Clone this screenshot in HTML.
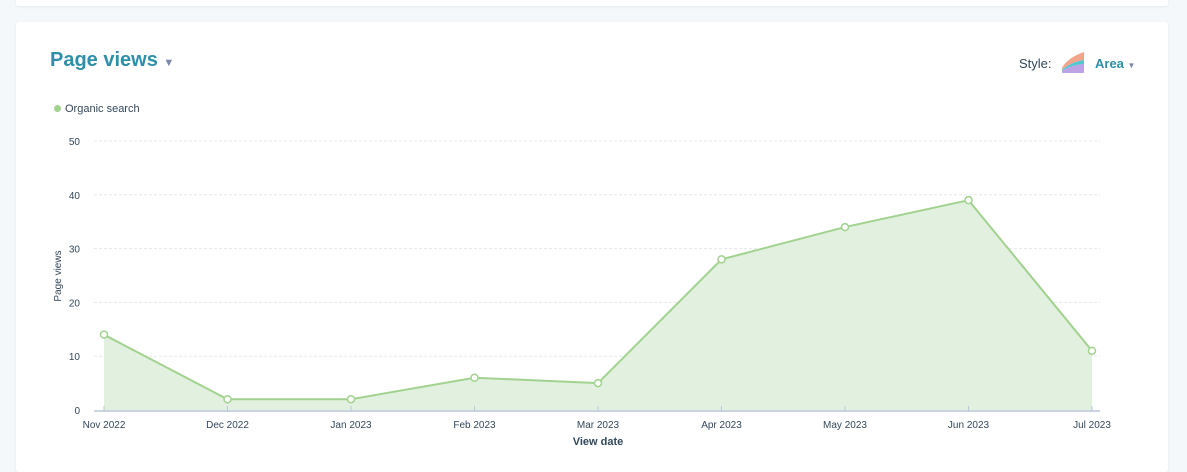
<!DOCTYPE html>
<html><head><meta charset="utf-8"><style>
body{margin:0;width:1187px;height:458px;background:#f5f8fa;font-family:"Liberation Sans",sans-serif;overflow:hidden;position:relative}
.card{position:absolute;background:#fff;border-radius:3px;box-shadow:0 1px 3px rgba(0,0,0,.06)}
</style></head><body>
<div class="card" style="left:16px;top:-10px;width:1152px;height:16px"></div>
<div class="card" style="left:16px;top:22px;width:1152px;height:450px"></div>
<div style="position:absolute;left:50px;top:49px;font-size:20px;font-weight:bold;color:#2e8fa8">Page views <span style="font-size:11px;color:#7c8aa8">▼</span></div>
<div style="position:absolute;left:1019px;top:56px;font-size:13px;color:#33475b">Style:</div>
<svg style="position:absolute;left:1061px;top:50px" width="24" height="24"><path d="M1 18 Q6 8 23 2 V10 Q10 12 1 20Z" fill="#f2a58c"/><path d="M1 20 Q10 12 23 10 V14 Q10 15 1 21Z" fill="#4fc9cf"/><path d="M1 21 Q10 15 23 14 V23 H1Z" fill="#bda3e3"/></svg>
<div style="position:absolute;left:1095px;top:56px;font-size:13px;font-weight:bold;color:#2e8fa8">Area <span style="font-size:8px;color:#7c8aa8">▼</span></div>
<div style="position:absolute;left:54px;top:103px;font-size:11px;color:#33475b"><span style="display:inline-block;width:7px;height:7px;border-radius:50%;background:#a2d28f;margin-right:4px"></span>Organic search</div>
<svg id="chart" style="position:absolute;left:0;top:0" width="1187" height="458"></svg>
<script>
const categories=["Nov 2022","Dec 2022","Jan 2023","Feb 2023","Mar 2023","Apr 2023","May 2023","Jun 2023","Jul 2023"];
const values=[14,2,2,6,5,28,34,39,11];
const yTicks=[0,10,20,30,40,50];
const svg=document.getElementById('chart');const NS='http://www.w3.org/2000/svg';
const x=i=>104+i*(1092-104)/(categories.length-1);
const y=v=>410-v*(410-141)/50;
function mk(t,a){const e=document.createElementNS(NS,t);for(const k in a)e.setAttribute(k,a[k]);svg.appendChild(e);return e;}
yTicks.forEach(t=>{
 if(t>0){const g=mk('line',{x1:94,x2:1100,y1:y(t),y2:y(t),stroke:'#e5e8eb','stroke-dasharray':'3,2'});
 
 }
 const l=mk('text',{x:80,y:y(t)+4,'text-anchor':'end','font-size':10,fill:'#33475b'});l.textContent=t;
 
 
});
let pts=values.map((v,i)=>x(i)+','+y(v)).join(' ');
const area=mk('polygon',{points:x(0)+','+y(0)+' '+pts+' '+x(values.length-1)+','+y(0),fill:'#e2f1df'});


const line=mk('polyline',{points:pts,fill:'none',stroke:'#a2d28f','stroke-width':2});


const ax=mk('line',{x1:94,x2:1100,y1:y(0)+1,y2:y(0)+1,stroke:'#b8c6d6','stroke-width':1.5});


categories.forEach((c,i)=>{
 const tk=mk('line',{x1:x(i),x2:x(i),y1:y(0)-4,y2:y(0)+1,stroke:'#b8c6d6'});
 
 
 const t=mk('text',{x:x(i),y:428,'text-anchor':'middle','font-size':10,fill:'#33475b'});t.textContent=c;
 
 
 const p=mk('circle',{cx:x(i),cy:y(values[i]),r:3.5,fill:'#fff',stroke:'#a2d28f','stroke-width':1.5});
 
 
});
const xt=mk('text',{x:598,y:445,'text-anchor':'middle','font-size':11,'font-weight':'bold',fill:'#33475b'});xt.textContent='View date';


const yt=mk('text',{x:0,y:0,'text-anchor':'middle','font-size':10,fill:'#33475b',transform:'translate(61,276) rotate(-90)'});yt.textContent='Page views';


</script>
</body></html>
